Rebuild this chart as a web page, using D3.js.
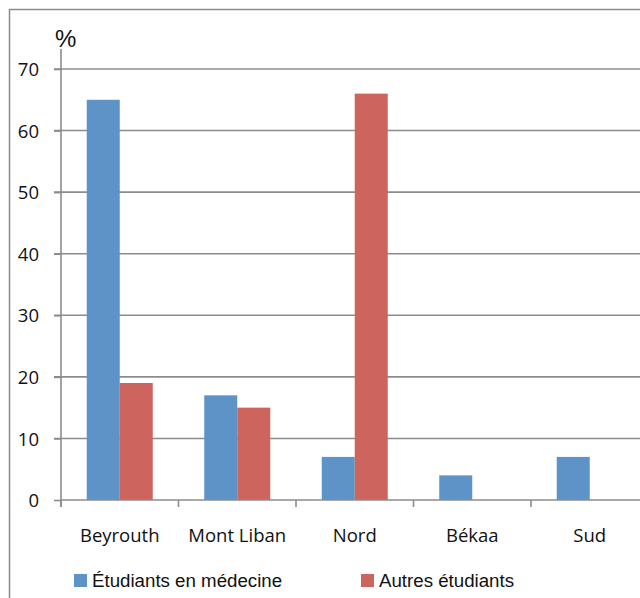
<!DOCTYPE html>
<html><head><meta charset="utf-8">
<script src="https://cdn.jsdelivr.net/npm/d3@7/dist/d3.min.js"></script>
<style>body{margin:0;background:#fff}svg{display:block}</style>
</head><body><svg id="c" width="640" height="598"></svg>
<script>
const categories = ["Beyrouth", "Mont Liban", "Nord", "Békaa", "Sud"];
const seriesNames = ["Étudiants en médecine", "Autres étudiants"];
const medecine = [65, 17, 7, 4, 7];
const autres = [19, 15, 66, 0, 0];
const yTicks = [0, 10, 20, 30, 40, 50, 60, 70];
const colors = ["#5E93C8", "#CD645E"];

const svg = d3.select("#c");
// outer frame
svg.append("line").attr("x1",9.5).attr("x2",9.5).attr("y1",9).attr("y2",598).attr("stroke","#8a8a8a").attr("stroke-width",1.5);
svg.append("line").attr("x1",9).attr("x2",640).attr("y1",9.5).attr("y2",9.5).attr("stroke","#8a8a8a").attr("stroke-width",1.5);

const x0 = 61, plotRight = 648.5;
const y = d3.scaleLinear().domain([0,70]).range([500,69]);
const x = d3.scaleBand().domain(categories).range([x0, plotRight]).paddingInner(0).paddingOuter(0);
const inner = d3.scaleBand().domain(seriesNames).range([0, x.bandwidth()]).paddingInner(0).paddingOuter(0.78);

// gridlines
svg.append("g").selectAll("line").data(yTicks.filter(d=>d>0)).join("line")
  .attr("x1", 54).attr("x2", 640)
  .attr("y1", d=>y(d)).attr("y2", d=>y(d))
  .attr("stroke","#8c8c8c").attr("stroke-width",1.6);

// bars
const data = categories.map((c,i)=>({c, v:[medecine[i], autres[i]]}));
const g = svg.append("g");
data.forEach(d=>{
  d.v.forEach((v,j)=>{
    if (v<=0) return;
    g.append("rect")
      .attr("x", x(d.c)+inner(seriesNames[j]))
      .attr("width", inner.bandwidth())
      .attr("y", y(v)).attr("height", y(0)-y(v))
      .attr("fill", colors[j]);
  });
});

// y axis
const yAxis = d3.axisLeft(y).tickValues(yTicks).tickSize(7).tickFormat(d3.format("d"));
const ya = svg.append("g").attr("transform",`translate(${x0},0)`).call(yAxis);
ya.select(".domain").remove();
ya.selectAll(".tick line").attr("stroke","#8c8c8c").attr("stroke-width",1.6);
ya.selectAll("text").attr("font-family","'Open Sans', sans-serif").attr("font-size",18.5).attr("fill","#111").attr("dx",-12).attr("dy","0.36em");
svg.append("line").attr("x1",x0).attr("x2",x0).attr("y1",49).attr("y2",507).attr("stroke","#8c8c8c").attr("stroke-width",1.6);

// x axis
svg.append("line").attr("x1",x0).attr("x2",640).attr("y1",y(0)).attr("y2",y(0)).attr("stroke","#8c8c8c").attr("stroke-width",1.6);
const bounds = categories.map(c=>x(c));
svg.append("g").selectAll("line").data(bounds).join("line")
  .attr("x1",d=>d).attr("x2",d=>d).attr("y1",y(0)).attr("y2",y(0)+7)
  .attr("stroke","#8c8c8c").attr("stroke-width",1.6);
svg.append("g").selectAll("text").data(categories).join("text")
  .attr("x",d=>x(d)+x.bandwidth()/2).attr("y",542)
  .attr("text-anchor","middle").attr("font-family","'Open Sans', sans-serif").attr("font-size",18.5).attr("fill","#111")
  .text(d=>d);

// % label
svg.append("text").attr("x",55).attr("y",47).attr("font-family","'Liberation Sans', Arial, sans-serif").attr("font-size",24).attr("fill","#111").text("%");

// legend
const legX = [74, 361];
seriesNames.forEach((n,i)=>{
  svg.append("rect").attr("x",legX[i]).attr("y",574).attr("width",13).attr("height",13).attr("fill",colors[i]);
  svg.append("text").attr("x",legX[i]+18).attr("y",587).attr("font-family","'Liberation Sans', Arial, sans-serif").attr("font-size",18.7).attr("fill","#111").text(n);
});
</script></body></html>
